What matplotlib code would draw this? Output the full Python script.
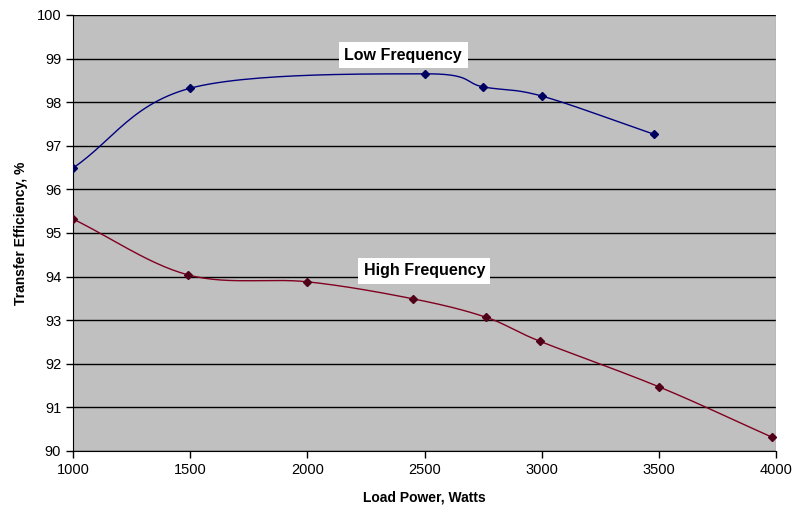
import numpy as np
import matplotlib
matplotlib.use('Agg')
import matplotlib.pyplot as plt

plt.rcParams['font.family'] = ['Liberation Sans', 'DejaVu Sans']

# data
low_power = [1000, 1500, 2500, 2750, 3000, 3480]
low_eff = [96.49, 98.32, 98.65, 98.35, 98.14, 97.26]
high_power = [1000, 1490, 2000, 2450, 2760, 2990, 3500, 3980]
high_eff = [95.32, 94.04, 93.88, 93.49, 93.07, 92.52, 91.47, 90.32]
x_ticks = [1000, 1500, 2000, 2500, 3000, 3500, 4000]
y_ticks = [90, 91, 92, 93, 94, 95, 96, 97, 98, 99, 100]


def smooth(xs, ys, n=30):
    # Catmull-Rom curve through the points, like the spreadsheet's smoothed line
    x = np.asarray(xs, float)
    y = np.asarray(ys, float)
    px = np.concatenate(([2 * x[0] - x[1]], x, [2 * x[-1] - x[-2]]))
    py = np.concatenate(([2 * y[0] - y[1]], y, [2 * y[-1] - y[-2]]))
    outx, outy = [], []
    t = np.linspace(0, 1, n)
    for i in range(1, len(px) - 2):
        for p, out in ((px, outx), (py, outy)):
            p0, p1, p2, p3 = p[i - 1], p[i], p[i + 1], p[i + 2]
            out.extend(0.5 * (2 * p1 + (-p0 + p2) * t
                              + (2 * p0 - 5 * p1 + 4 * p2 - p3) * t ** 2
                              + (-p0 + 3 * p1 - 3 * p2 + p3) * t ** 3))
    return outx, outy


fig = plt.figure(figsize=(7.92, 5.07), dpi=100)
ax = fig.add_axes([0.0922, 0.1105, 0.888, 0.86])
ax.set_facecolor('#c0c0c0')

sx, sy = smooth(low_power, low_eff)
ax.plot(sx, sy, color='#000080', lw=1, zorder=3)
ax.plot(low_power, low_eff, 'D', color='#000060', ms=4, zorder=4)

sx, sy = smooth(high_power, high_eff)
ax.plot(sx, sy, color='#800020', lw=1, zorder=3)
ax.plot(high_power, high_eff, 'D', color='#500018', ms=4, zorder=4)

ax.set_xlim(1000, 4000)
ax.set_ylim(90, 100)
ax.set_xticks(x_ticks)
ax.set_yticks(y_ticks)
ax.tick_params(direction='out', length=5, width=1, labelsize=10.5, colors='black')
ax.yaxis.grid(True, color='black', lw=1)
ax.set_axisbelow(True)

for s in ('top', 'right'):
    ax.spines[s].set_visible(False)
ax.axvline(4000, color='#a0a0a0', lw=1, zorder=1)

ax.set_xlabel('Load Power, Watts', fontsize=10, fontweight='bold', labelpad=10)
ax.set_ylabel('Transfer Efficiency, %', fontsize=10, fontweight='bold', labelpad=6)

box = dict(facecolor='white', edgecolor='none', pad=4)
ax.text(2408, 99.08, 'Low Frequency', fontsize=11.5, fontweight='bold',
        ha='center', va='center', bbox=box, zorder=5)
ax.text(2498, 94.13, 'High Frequency', fontsize=11.5, fontweight='bold',
        ha='center', va='center', bbox=box, zorder=5)

fig.savefig('out.png', dpi=100)
